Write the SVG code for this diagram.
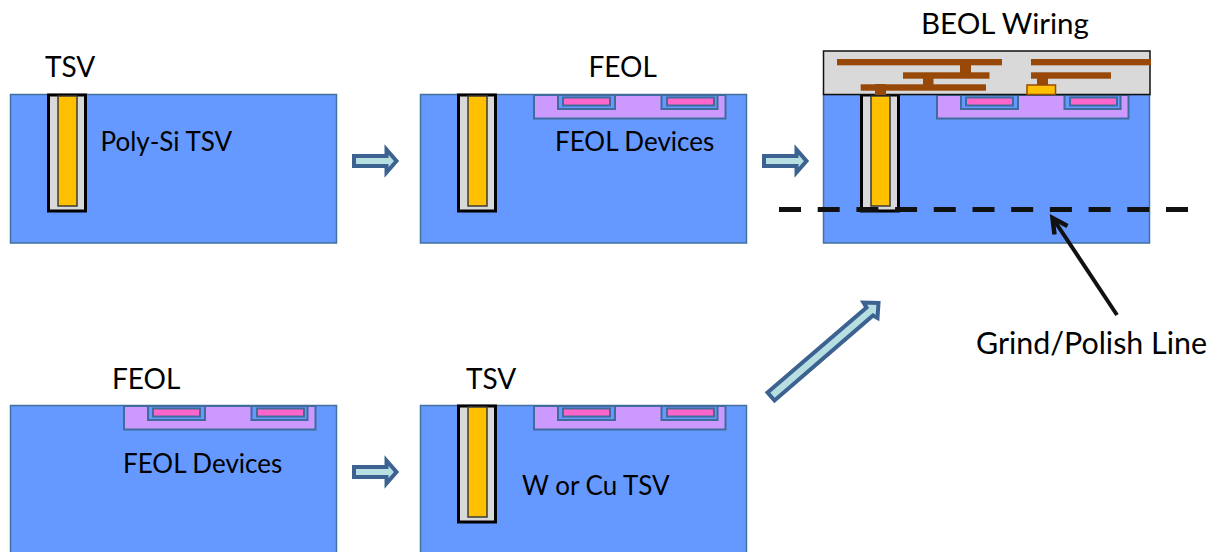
<svg xmlns="http://www.w3.org/2000/svg" width="1215" height="552" viewBox="0 0 1215 552">
<style>
.si{fill:#6699ff;stroke:#41719c;stroke-width:1.5}
.ox{fill:#d9d9d9;stroke:#000;stroke-width:3}
.core{fill:#ffc000;stroke:#3b3b3b;stroke-width:1.5}
.well{fill:#cc99ff;stroke:#3f6c9b;stroke-width:2}
.pocket{fill:#6699ff;stroke:#3f6c9b;stroke-width:2}
.gate{fill:#ff66cc;stroke:#3f6c9b;stroke-width:2}
.cu{fill:#984807}
.pad{fill:#ffc000;stroke:#984807;stroke-width:1.5}
.beol{fill:#d9d9d9;stroke:#111;stroke-width:1.5}
.block{fill:#b7dee0;stroke:#3b6290;stroke-width:4}
.t{font-family:"Lato","Open Sans","Liberation Sans",sans-serif;font-size:28px;fill:#000}
.s{font-size:26px}
.w{font-size:29.500px}
.g{font-size:30.400px}
</style>
<defs>
<g id="tsv"><rect class="ox" x="0" y="0" width="37" height="116"/><rect class="core" x="9.500" y="1" width="19" height="110"/></g>
<g id="feol"><rect class="well" x="0" y="0" width="191.500" height="23.500"/><rect class="pocket" x="24" y="0" width="57" height="14"/><rect class="gate" x="29" y="2.500" width="47" height="8"/><rect class="pocket" x="127.500" y="0" width="56" height="14"/><rect class="gate" x="133" y="2.500" width="47" height="8"/></g>
<path id="ar" d="M354 156H386.500V149.500L396.500 161L386.500 172.500V166H354Z"/>
</defs>
<g id="panel-poly-si-tsv">
<rect class="si" x="10.500" y="94.500" width="326" height="148.500"/>
<use href="#tsv" x="48.500" y="95"/>
<text class="t" x="45" y="76.500">TSV</text>
<text class="t s" x="100.500" y="151">Poly-Si TSV</text>
</g>
<g id="panel-feol">
<rect class="si" x="420.500" y="94.500" width="326" height="148.500"/>
<use href="#feol" x="534" y="95"/>
<use href="#tsv" x="458.500" y="95"/>
<text class="t" x="588.500" y="76.500">FEOL</text>
<text class="t s" x="555" y="151">FEOL Devices</text>
</g>
<g id="panel-beol">
<rect class="si" x="823.500" y="94.500" width="326" height="148.500"/>
<use href="#feol" x="937" y="95"/>
<use href="#tsv" x="861.500" y="95"/>
<rect class="beol" x="823.500" y="51" width="326.500" height="43.500"/>
<g class="cu">
<rect x="837" y="59" width="165" height="6.300"/><rect x="1031" y="59" width="120" height="6.300"/>
<rect x="903" y="72.300" width="86.500" height="6.400"/><rect x="1031" y="72.300" width="80" height="6.400"/>
<rect x="860.700" y="84.300" width="125.300" height="6.400"/>
<rect x="960" y="65" width="11" height="8"/><rect x="923" y="78" width="10.500" height="7"/><rect x="875" y="84" width="11" height="11"/><rect x="1037" y="78" width="11" height="7"/>
</g>
<rect class="pad" x="1027" y="85" width="28.500" height="9.500"/>
<text class="t w" x="921" y="33.500">BEOL Wiring</text>
</g>
<g id="panel-feol-first">
<rect class="si" x="10.500" y="405.500" width="326" height="150"/>
<use href="#feol" x="124" y="406"/>
<text class="t" x="112" y="388.500">FEOL</text>
<text class="t s" x="123" y="473">FEOL Devices</text>
</g>
<g id="panel-tsv-last">
<rect class="si" x="420.500" y="405.500" width="326" height="150"/>
<use href="#feol" x="534" y="406"/>
<use href="#tsv" x="458.500" y="406"/>
<text class="t" x="466" y="388.500">TSV</text>
<text class="t s" x="522" y="495">W or Cu TSV</text>
</g>
<g id="connectors">
<use href="#ar" class="block"/>
<use href="#ar" class="block" x="410"/>
<use href="#ar" class="block" y="311"/>
<path class="block" d="M767.500 392.500L866.500 307.500L863.500 302.500L878.500 303L877.500 318L873 315.500L774.500 400.500Z"/>
<path d="M779 209.500H1189" fill="none" stroke="#111" stroke-width="5" stroke-dasharray="22 16.700"/>
<path d="M1117 315L1054 220" fill="none" stroke="#111" stroke-width="4"/>
<path d="M1054.500 234.500L1052.500 218L1067.500 226" fill="none" stroke="#111" stroke-width="4.500"/>
</g>
<g id="label-grind"><text class="t g" x="976" y="353.500">Grind/Polish Line</text></g>
</svg>
